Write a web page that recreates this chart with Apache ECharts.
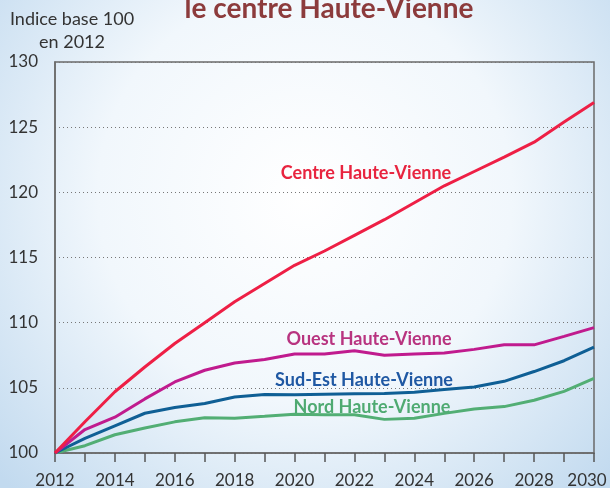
<!DOCTYPE html>
<html>
<head>
<meta charset="utf-8">
<script src="https://cdn.jsdelivr.net/npm/echarts@6/dist/echarts.min.js"></script>
<style>
    html, body { margin: 0; padding: 0; }
    #chart { width: 610px; height: 488px; }
</style>
</head>
<body>
<div id="chart"></div>
<script>
    // années et indices (base 100 en 2012)
    var years = ['2012', '2013', '2014', '2015', '2016', '2017', '2018', '2019', '2020', '2021',
                 '2022', '2023', '2024', '2025', '2026', '2027', '2028', '2029', '2030'];
    var centre = [100, 102.4, 104.7, 106.6, 108.4, 110.0, 111.6, 113.0, 114.4, 115.5,
                  116.7, 117.9, 119.2, 120.5, 121.6, 122.7, 123.85, 125.4, 126.9];
    var ouest = [100, 101.8, 102.75, 104.15, 105.45, 106.35, 106.9, 107.18, 107.6, 107.6,
                 107.85, 107.5, 107.6, 107.67, 107.95, 108.3, 108.3, 108.95, 109.62];
    var sudEst = [100, 101.12, 102.09, 103.05, 103.49, 103.8, 104.3, 104.48, 104.46, 104.5,
                  104.54, 104.57, 104.67, 104.87, 105.07, 105.5, 106.25, 107.08, 108.12];
    var nord = [100, 100.56, 101.4, 101.92, 102.39, 102.71, 102.67, 102.82, 102.98, 102.94,
                102.93, 102.58, 102.67, 103.04, 103.38, 103.56, 104.05, 104.73, 105.72];

    var font = 'Lato, "Open Sans", sans-serif';

    var chart = echarts.init(document.getElementById('chart'));
    chart.setOption({
        animation: false,
        backgroundColor: {
            type: 'radial', x: 0.5, y: 0.4, r: 0.85,
            colorStops: [
                { offset: 0, color: '#ffffff' },
                { offset: 0.5, color: '#f1f7fc' },
                { offset: 1, color: '#c2daef' }
            ]
        },
        grid: {
            left: 55, right: 16, top: 62, bottom: 35,
            outerBoundsMode: 'none', containLabel: false,
            show: true, borderColor: '#6a6a6a', borderWidth: 1.5,
            backgroundColor: 'transparent'
        },
        xAxis: {
            type: 'category',
            data: years,
            boundaryGap: false,
            axisLine: { show: true, lineStyle: { color: '#6a6a6a', width: 1.5 } },
            axisTick: { show: true, interval: 0, length: 9, lineStyle: { color: '#555', width: 1.5 } },
            axisLabel: {
                interval: 1, color: '#333', fontFamily: font, fontSize: 17, margin: 19,
                formatter: function (v) { return v === '2030' ? '{last|' + v + '}' : v; },
                rich: { last: { padding: [0, 14, 0, 0], fontFamily: font, fontSize: 17, color: '#333' } }
            },
            splitLine: { show: false }
        },
        yAxis: {
            type: 'value',
            min: 100, max: 130, interval: 5,
            axisLine: { show: true, lineStyle: { color: '#6a6a6a', width: 1.5 } },
            axisTick: { show: false },
            axisLabel: { color: '#333', fontFamily: font, fontSize: 17, margin: 17 },
            splitLine: { lineStyle: { color: '#777', type: [1, 3], width: 1 } }
        },
        graphic: [
            {
                type: 'text', x: 329, y: -5,
                style: { text: 'le centre Haute-Vienne', font: 'bold 28px ' + font, fill: '#8c3b3c', align: 'center' }
            },
            {
                type: 'text', x: 72, y: 8,
                style: { text: 'Indice base 100\nen 2012', font: '18px ' + font, fill: '#333',
                         align: 'center', lineHeight: 23 }
            },
            { type: 'text', x: 366, y: 173,
              style: { text: 'Centre Haute-Vienne', font: 'bold 18px ' + font, fill: '#e8243f', align: 'center', verticalAlign: 'middle' } },
            { type: 'text', x: 369, y: 339,
              style: { text: 'Ouest Haute-Vienne', font: 'bold 18px ' + font, fill: '#b83480', align: 'center', verticalAlign: 'middle' } },
            { type: 'text', x: 364, y: 380,
              style: { text: 'Sud-Est Haute-Vienne', font: 'bold 18px ' + font, fill: '#1f58a3', align: 'center', verticalAlign: 'middle' } },
            { type: 'text', x: 372, y: 407,
              style: { text: 'Nord Haute-Vienne', font: 'bold 18px ' + font, fill: '#4faa72', align: 'center', verticalAlign: 'middle' } }
        ],
        series: [
            { name: 'Nord Haute-Vienne', type: 'line', data: nord, symbol: 'none',
              lineStyle: { color: '#52ae74', width: 3 } },
            { name: 'Sud-Est Haute-Vienne', type: 'line', data: sudEst, symbol: 'none',
              lineStyle: { color: '#0f5f95', width: 3 } },
            { name: 'Ouest Haute-Vienne', type: 'line', data: ouest, symbol: 'none',
              lineStyle: { color: '#c01b8e', width: 3 } },
            { name: 'Centre Haute-Vienne', type: 'line', data: centre, symbol: 'none',
              lineStyle: { color: '#ee1f45', width: 3 } }
        ]
    });
</script>
</body>
</html>
